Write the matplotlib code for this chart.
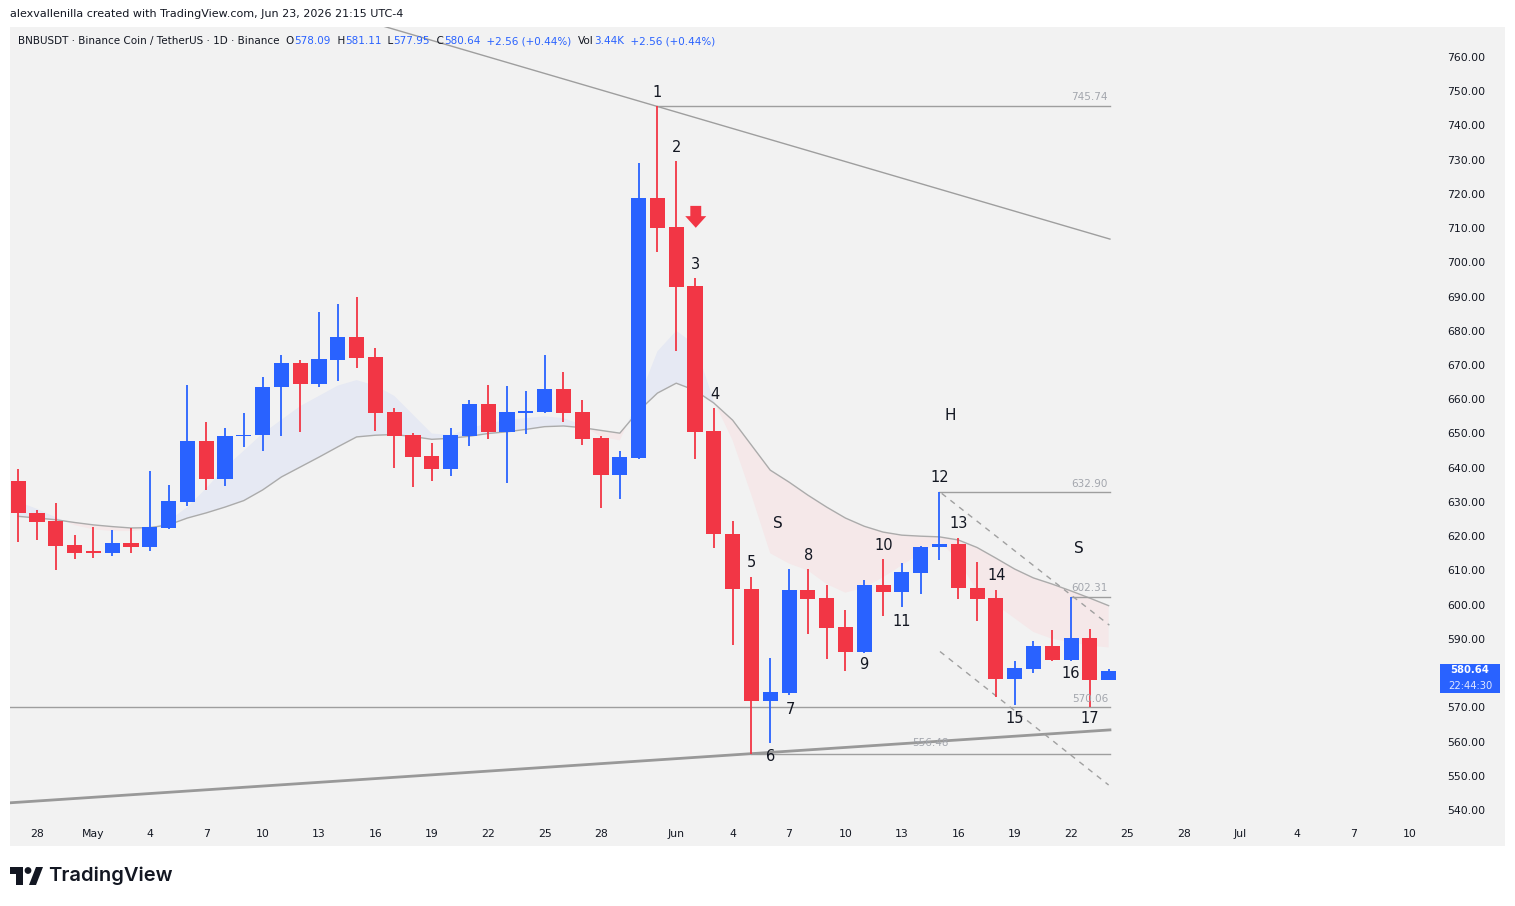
import matplotlib
matplotlib.use('Agg')
import matplotlib.pyplot as plt
import matplotlib.transforms as mtransforms
from matplotlib.patches import Rectangle, Polygon, Circle
import numpy as np

# daily candles, BNBUSDT, starting Apr 27
opens = [636.0, 626.9, 624.4, 617.4, 615.5, 615.2, 618.0, 616.9, 622.5, 630.1,
         647.8, 636.8, 649.2, 649.7, 663.5, 670.7, 664.6, 671.5, 678.3, 672.4,
         656.3, 649.6, 643.4, 639.7, 649.4, 658.6, 650.3, 656.1, 656.4, 663.0,
         656.3, 648.7, 638.0, 642.9, 718.9, 710.4, 693.2, 650.7, 620.6, 604.6,
         571.9, 574.1, 604.3, 602.0, 593.6, 586.3, 605.7, 603.6, 609.3, 616.9,
         617.7, 604.9, 601.8, 578.3, 581.2, 587.9, 583.8, 590.2, 578.09]
highs = [639.6, 627.6, 629.8, 620.3, 622.8, 621.8, 622.3, 639.0, 634.9, 664.2,
         653.4, 651.7, 656.1, 666.6, 672.9, 671.5, 685.6, 687.7, 690.0, 674.9,
         657.5, 650.0, 647.3, 651.5, 659.8, 664.2, 663.9, 662.4, 672.9, 668.0,
         659.8, 649.3, 644.9, 729.1, 745.74, 729.6, 695.3, 657.4, 624.4, 608.2,
         584.5, 610.4, 610.4, 605.7, 598.4, 607.2, 613.3, 612.3, 617.2, 632.9,
         619.4, 612.5, 604.3, 583.4, 589.4, 592.6, 602.31, 592.8, 581.11]
lows = [618.4, 618.9, 610.1, 613.3, 613.7, 614.2, 615.2, 615.8, 622.0, 628.8,
        633.5, 634.8, 646.2, 645.0, 649.4, 650.5, 663.7, 665.4, 669.2, 650.8,
        640.0, 634.5, 636.2, 637.7, 646.4, 648.5, 635.5, 649.8, 655.9, 653.4,
        646.6, 628.3, 630.9, 642.5, 703.1, 674.2, 642.5, 616.4, 588.2, 556.48,
        559.7, 573.6, 591.4, 584.0, 580.7, 586.0, 596.8, 599.4, 603.0, 612.9,
        601.6, 595.3, 573.1, 570.7, 580.1, 583.5, 583.6, 570.06, 577.95]
closes = [626.7, 624.2, 617.2, 615.2, 615.2, 618.0, 616.9, 622.8, 630.4, 647.8,
          636.8, 649.4, 649.6, 663.7, 670.7, 664.6, 671.8, 678.3, 672.1, 656.1,
          649.4, 643.2, 639.7, 649.6, 658.6, 650.3, 656.3, 656.5, 663.0, 656.1,
          648.4, 638.0, 643.1, 718.9, 710.1, 692.9, 650.5, 620.5, 604.5, 571.9,
          574.4, 604.3, 601.6, 593.3, 586.3, 605.7, 603.6, 609.5, 616.9, 617.7,
          604.8, 601.6, 578.3, 581.4, 587.9, 583.8, 590.2, 578.09, 580.64]

# moving averages (slow = drawn gray line, fast = cloud edge)
ma_slow = [625.8, 625.3, 624.8, 624.0, 623.3, 622.8, 622.4, 622.5, 623.3, 625.3,
           626.8, 628.5, 630.4, 633.5, 637.3, 640.2, 643.1, 646.1, 649.0, 649.5,
           649.7, 649.1, 648.3, 648.6, 649.2, 650.0, 650.5, 651.2, 652.0, 652.2,
           651.7, 650.9, 650.1, 656.6, 661.8, 664.7, 662.6, 658.9, 653.9, 646.6,
           639.3, 635.8, 632.0, 628.5, 625.3, 622.9, 621.2, 620.3, 620.0, 619.8,
           618.9, 616.7, 613.6, 610.4, 607.8, 606.0, 604.0, 601.9, 599.7]
ma_fast = [630.0, 628.0, 625.5, 623.2, 622.0, 621.5, 621.5, 622.0, 624.5, 628.5,
           634.0, 640.0, 645.0, 650.0, 654.0, 658.0, 661.0, 664.0, 665.6, 664.0,
           661.0, 655.5, 650.0, 649.5, 651.5, 653.0, 654.0, 654.5, 655.0, 654.5,
           652.5, 649.0, 648.0, 660.0, 674.0, 680.0, 676.0, 659.5, 648.0, 632.0,
           615.0, 612.0, 610.0, 606.0, 603.5, 605.0, 608.0, 611.5, 615.0, 618.5,
           613.0, 604.0, 600.0, 596.0, 592.0, 590.0, 589.0, 588.0, 587.5]

# x axis: day index from Apr 27
tick_days = [1, 4, 7, 10, 13, 16, 19, 22, 25, 28, 31, 35, 38, 41, 44, 47, 50, 53,
             56, 59, 62, 65, 68, 71, 74]
tick_labels = ['28', 'May', '4', '7', '10', '13', '16', '19', '22', '25', '28',
               'Jun', '4', '7', '10', '13', '16', '19', '22', '25', '28', 'Jul',
               '4', '7', '10']
# 580 sits under the last-price tag, so it is not labelled
price_ticks = [p for p in range(540, 761, 10) if p != 580]

# annotations drawn on the chart
wave_text = ['1', '2', '3', '4', '5', '6', '7', '8', '9', '10', '11', '12', '13',
             '14', '15', '16', '17', 'S', 'H', 'S']
wave_x = [34.0, 35.0, 36.05, 37.06, 39.0, 40.04, 41.05, 42.06, 45.0, 46.05, 47.0,
          49.03, 50.0, 52.06, 53.0, 56.0, 57.0, 40.4, 49.56, 56.4]
wave_y = [749.5, 733.7, 699.5, 661.5, 612.2, 555.5, 569.5, 614.5, 582.4, 617.4,
          595.2, 637.0, 623.6, 608.4, 566.6, 580.0, 566.6, 623.8, 655.4, 616.3]

levels = [745.74, 632.90, 602.31, 570.06, 556.48]
level_start = [34, 49, 56, -0.44, 39]
level_end = 58.07

trend_down_x, trend_down_y = [19.24, 58.07], [769.3, 706.8]
trend_up_x, trend_up_y = [-0.44, 58.07], [542.1, 563.4]
chan_top_x, chan_top_y = [49.12, 58.04], [632.5, 594.0]
chan_bot_x, chan_bot_y = [49.03, 58.0], [586.3, 547.3]

arrow_x, arrow_top, arrow_neck, arrow_tip = 36.04, 716.5, 713.5, 710.1

last_price, countdown = 580.64, '22:44:30'

RED = '#f23645'
BLUE = '#2962ff'
TXT = '#131722'
GRID_GRAY = '#9e9e9e'
LBL_GRAY = '#a3a6ad'

W, H = 1515, 906
fig = plt.figure(figsize=(W / 100, H / 100), dpi=100)
fig.patch.set_facecolor('white')

# pixel-space overlay for the frame, header and footer
bg = fig.add_axes([0, 0, 1, 1], zorder=-5)
bg.set_xlim(0, W)
bg.set_ylim(H, 0)
bg.axis('off')
bg.add_patch(Rectangle((10, 27), 1495, 819, color='#f2f2f2', lw=0))

top = fig.add_axes([0, 0, 1, 1], zorder=5)
top.set_xlim(0, W)
top.set_ylim(H, 0)
top.axis('off')
top.text(10, 14, 'alexvallenilla created with TradingView.com, Jun 23, 2026 21:15 UTC-4',
         fontsize=8, color=TXT, va='center', ha='left', family='DejaVu Sans')

legend_parts = [('BNBUSDT · Binance Coin / TetherUS · 1D · Binance  O', TXT),
                ('578.09', BLUE), ('  H', TXT), ('581.11', BLUE), ('  L', TXT),
                ('577.95', BLUE), ('  C', TXT), ('580.64', BLUE),
                ('  +2.56 (+0.44%)  ', BLUE), ('Vol', TXT), ('3.44K', BLUE),
                ('  +2.56 (+0.44%)', BLUE)]
prev = top.text(18, 41, legend_parts[0][0], fontsize=7.5, color=legend_parts[0][1],
                va='center', ha='left')
for s, c in legend_parts[1:]:
    prev = top.annotate(s, xy=(1, 0.5), xycoords=prev, va='center', ha='left',
                        fontsize=7.5, color=c)

# TradingView logo
top.add_patch(Polygon([(10, 867), (23, 867), (23, 885), (16, 885), (16, 874), (10, 874)],
                      closed=True, color=TXT, lw=0))
top.add_patch(Circle((28, 870.5), 3.4, color=TXT, lw=0))
top.add_patch(Polygon([(36, 867), (43, 867), (36, 885), (29, 885)], closed=True,
                      color=TXT, lw=0))
top.text(48, 876, 'TradingView', fontsize=14.5, weight='semibold', color=TXT,
         va='center', ha='left', family='Inter')

# main chart axes
px_top, px_bot, px_left, px_right = 27, 818, 10, 1432
ax = fig.add_axes([px_left / W, 1 - px_bot / H, (px_right - px_left) / W,
                   (px_bot - px_top) / H])
ax.set_facecolor('none')
v_top = 760 - (px_top - 57) / 3.4227
v_bot = 760 - (px_bot - 57) / 3.4227
ax.set_ylim(v_bot, v_top)
ax.set_xlim(-0.436, 75.2)

xs = np.arange(len(opens))
o = np.array(opens)
c = np.array(closes)
slow = np.array(ma_slow)
fast = np.array(ma_fast)

ax.fill_between(xs, slow, fast, where=fast >= slow, interpolate=True,
                color='#e6e9f3', lw=0, zorder=1)
ax.fill_between(xs, slow, fast, where=fast < slow, interpolate=True,
                color='#f5e8e9', lw=0, zorder=1)
ax.plot(xs, slow, color='#ababab', lw=1, zorder=2)

cols = [BLUE if cc >= oo else RED for oo, cc in zip(opens, closes)]
ax.vlines(xs, lows, highs, colors=cols, lw=1.3, zorder=4)
body_h = np.maximum(np.abs(c - o), 0.45)
ax.bar(xs, body_h, bottom=np.minimum(o, c), width=0.8, color=cols, lw=0, zorder=5)

# levels
for lv, xs0 in zip(levels, level_start):
    ax.plot([xs0, level_end], [lv, lv], color=GRID_GRAY, lw=1, zorder=3)
for lv in levels[:4]:
    ax.annotate(f'{lv:.2f}', xy=(level_end - 0.1, lv), xytext=(0, 2.5),
                textcoords='offset points', ha='right', va='bottom', fontsize=7.5,
                color=LBL_GRAY, zorder=6)
ax.annotate(f'{levels[4]:.2f}', xy=((level_start[4] + level_end) / 2, levels[4]),
            xytext=(0, 4), textcoords='offset points', ha='center', va='bottom',
            fontsize=7.5, color=LBL_GRAY, zorder=6)

# trendlines and channel
ax.plot(trend_down_x, trend_down_y, color=GRID_GRAY, lw=1, zorder=3)
ax.plot(trend_up_x, trend_up_y, color='#999999', lw=2, zorder=3)
ax.plot(chan_top_x, chan_top_y, color='#a0a0a0', lw=1, ls=(0, (4, 4)), zorder=3)
ax.plot(chan_bot_x, chan_bot_y, color='#a0a0a0', lw=1, ls=(0, (4, 4)), zorder=3)

# wave labels
for t, x, y in zip(wave_text, wave_x, wave_y):
    ax.text(x, y, t, fontsize=11 if t in ('S', 'H') else 10.5, color=TXT,
            ha='center', va='center', zorder=7)

# red arrow
ax.add_patch(Polygon([(arrow_x - 0.29, arrow_top), (arrow_x + 0.29, arrow_top),
                      (arrow_x + 0.29, arrow_neck), (arrow_x + 0.56, arrow_neck),
                      (arrow_x, arrow_tip), (arrow_x - 0.56, arrow_neck),
                      (arrow_x - 0.29, arrow_neck)], closed=True, color=RED, lw=0,
                     zorder=7))

# axes ticks
ax.set_yticks(price_ticks)
ax.set_yticklabels([f'{p:.2f}' for p in price_ticks])
ax.yaxis.tick_right()
ax.set_xticks(tick_days)
ax.set_xticklabels(tick_labels)
ax.tick_params(axis='both', length=0, labelsize=7.8, labelcolor=TXT)
ax.tick_params(axis='y', pad=11)
ax.tick_params(axis='x', pad=8)
for sp in ax.spines.values():
    sp.set_visible(False)

# last price tag
tr = mtransforms.blended_transform_factory(ax.transAxes, ax.transData)
box_l = (1440 - px_left) / (px_right - px_left)
box_w = 60 / (px_right - px_left)
ax.add_patch(Rectangle((box_l, last_price - 29 / 3.4227 + 7 / 3.4227), box_w,
                       29 / 3.4227, transform=tr, color=BLUE, lw=0, clip_on=False,
                       zorder=8))
ax.text(box_l + box_w / 2, last_price + 0.3, f'{last_price:.2f}', transform=tr,
        ha='center', va='center', fontsize=7.2, color='white', weight='bold',
        clip_on=False, zorder=9)
ax.text(box_l + box_w / 2, last_price - 15.5 / 3.4227, countdown, transform=tr,
        ha='center', va='center', fontsize=7.2, color='#dfe6ff', clip_on=False, zorder=9)

fig.savefig('out.png', dpi=100)
